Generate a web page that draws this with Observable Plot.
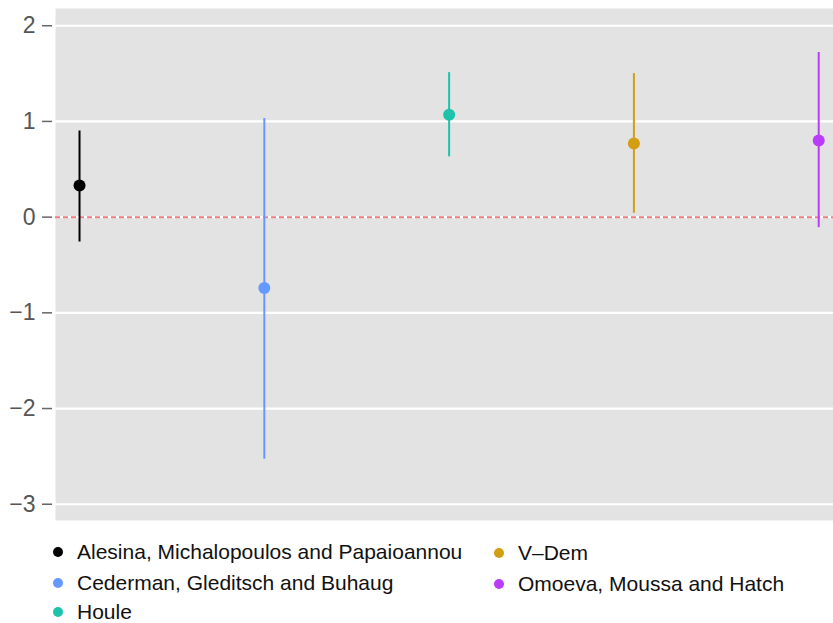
<!DOCTYPE html>
<html>
<head>
<meta charset="utf-8">
<script src="https://cdn.jsdelivr.net/npm/d3@7"></script>
<script src="https://cdn.jsdelivr.net/npm/@observablehq/plot@0.6"></script>
<style>
  body { margin: 0; background: #fff; font-family: "Liberation Sans", Arial, Helvetica, sans-serif; overflow: hidden; }
  #wrap { position: relative; width: 833px; height: 623px; }
  .leg { position: absolute; font-size: 21px; color: #111; white-space: nowrap; line-height: 20px; height: 20px; }
  .leg span.dot { position: absolute; width: 10px; height: 10px; border-radius: 50%; left: -24px; top: 5px; }
</style>
</head>
<body>
<div id="wrap"></div>
<script>
const studies = ["Alesina, Michalopoulos and Papaioannou", "Cederman, Gleditsch and Buhaug", "Houle", "V\u2013Dem", "Omoeva, Moussa and Hatch"];
const position = [1, 2, 3, 4, 5];
const estimate = [0.33, -0.74, 1.07, 0.77, 0.80];
const lower = [-0.26, -2.53, 0.63, 0.04, -0.11];
const upper = [0.90, 1.03, 1.51, 1.50, 1.72];
const colors = ["#000000", "#6699FF", "#1CC3AA", "#D39E12", "#BB3CF8"];
const yTicks = [-3, -2, -1, 0, 1, 2];

const data = studies.map((s, i) => ({study: s, x: position[i], est: estimate[i], lo: lower[i], hi: upper[i]}));

const chart = Plot.plot({
  width: 833,
  height: 523,
  marginTop: 8,
  marginBottom: 3,
  marginLeft: 55,
  marginRight: 0,
  style: {fontFamily: "'Liberation Sans', Arial, sans-serif", background: "white"},
  x: {domain: [0.87, 5.08], axis: null},
  y: {domain: [-3.17, 2.18]},
  color: {domain: studies, range: colors},
  marks: [
    Plot.frame({fill: "#E3E3E3", stroke: null}),
    Plot.ruleY(yTicks, {stroke: "white", strokeWidth: 2.2}),
    Plot.ruleY([0], {stroke: "#F47C84", strokeWidth: 2, strokeDasharray: "5,3"}),
    Plot.axisY({ticks: yTicks, tickSize: 10, tickPadding: 7, dx: -3, fontSize: 23, color: "#555", stroke: "#666", strokeWidth: 1.5, label: null,
      tickFormat: d => d < 0 ? "\u2212" + Math.abs(d) : String(d)}),
    Plot.ruleX(data, {x: "x", y1: "lo", y2: "hi", stroke: "study", strokeWidth: 2}),
    Plot.dot(data, {x: "x", y: "est", fill: "study", r: 6})
  ]
});
const wrap = document.getElementById("wrap");
wrap.appendChild(chart);

const legPos = [[77, 542], [77, 573], [77, 602], [518, 543], [518, 574]];
studies.forEach((s, i) => {
  const d = document.createElement("div");
  d.className = "leg";
  d.style.left = legPos[i][0] + "px";
  d.style.top = legPos[i][1] + "px";
  const dot = document.createElement("span");
  dot.className = "dot";
  dot.style.background = colors[i];
  d.appendChild(dot);
  d.appendChild(document.createTextNode(s));
  wrap.appendChild(d);
});
</script>
</body>
</html>
